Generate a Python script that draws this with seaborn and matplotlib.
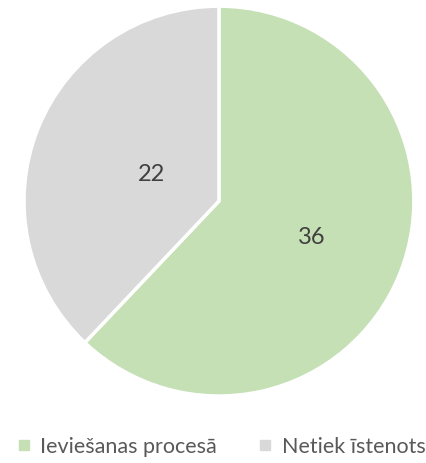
import numpy as np
import seaborn as sns
import matplotlib.pyplot as plt
from matplotlib.lines import Line2D

categories = ["Ieviešanas procesā", "Netiek īstenots"]
values = [36, 22]
colors = ["#C5E0B4", "#D9D9D9"]
label_dist = [0.51, 0.37]

sns.set_style("white")
plt.rcParams["font.family"] = ["Lato", "DejaVu Sans"]

fig = plt.figure(figsize=(4.27, 4.63), dpi=100)
ax = fig.add_axes([0.0562, 0.1447, 0.913, 0.842])

wedges, _ = ax.pie(values, colors=colors, startangle=90, counterclock=False,
                   wedgeprops=dict(edgecolor="white", linewidth=2.5))
ax.set_xlim(-1, 1)
ax.set_ylim(-1, 1)
ax.set_aspect("equal")

# value labels inside the wedges
for w, v, d in zip(wedges, values, label_dist):
    mid = np.deg2rad((w.theta1 + w.theta2) / 2)
    ax.text(d * np.cos(mid), d * np.sin(mid), str(v), ha="center", va="center",
            fontsize=17, color="#404040")

handles = [Line2D([], [], marker="s", linestyle="", markersize=7,
                  markerfacecolor=c, markeredgecolor=c) for c in colors]
fig.legend(handles, categories, loc="center", bbox_to_anchor=(0.515, 0.035),
           ncol=2, frameon=False, fontsize=15.5, labelcolor="#595959",
           handletextpad=0.3, columnspacing=1.8, handlelength=0.9)

fig.savefig("out.png", dpi=100)
